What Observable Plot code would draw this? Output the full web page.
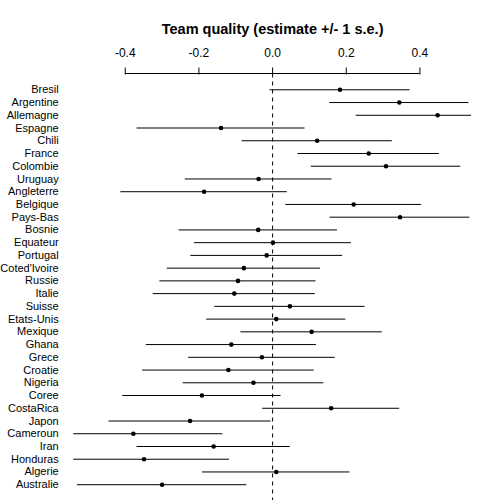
<!DOCTYPE html>
<html>
<head>
<meta charset="utf-8">
<script src="https://cdn.jsdelivr.net/npm/d3@7"></script>
<script src="https://cdn.jsdelivr.net/npm/@observablehq/plot@0.6"></script>
<style>
  html, body { margin: 0; padding: 0; background: #fff; }
  svg { font-family: "Liberation Sans", Arial, Helvetica, sans-serif; }
</style>
</head>
<body>
<div id="chart"></div>
<script>
const title = "Team quality (estimate +/- 1 s.e.)";
const teams = ["Bresil","Argentine","Allemagne","Espagne","Chili","France","Colombie","Uruguay","Angleterre","Belgique","Pays-Bas","Bosnie","Equateur","Portugal","Coted'Ivoire","Russie","Italie","Suisse","Etats-Unis","Mexique","Ghana","Grece","Croatie","Nigeria","Coree","CostaRica","Japon","Cameroun","Iran","Honduras","Algerie","Australie"];
const estimates = [0.183,0.344,0.448,-0.140,0.121,0.261,0.308,-0.038,-0.186,0.220,0.346,-0.039,0.001,-0.016,-0.078,-0.094,-0.104,0.047,0.010,0.106,-0.112,-0.029,-0.120,-0.052,-0.192,0.159,-0.224,-0.378,-0.160,-0.349,0.010,-0.300];
const stdErrors = [0.190,0.189,0.221,0.228,0.204,0.192,0.203,0.199,0.226,0.184,0.190,0.215,0.213,0.206,0.208,0.212,0.220,0.204,0.189,0.192,0.231,0.199,0.233,0.191,0.215,0.186,0.220,0.243,0.208,0.232,0.200,0.230];
const xTicks = [-0.4, -0.2, 0, 0.2, 0.4];

const rows = teams.map((t, i) => ({team: t, est: estimates[i], lo: estimates[i] - stdErrors[i], hi: estimates[i] + stdErrors[i]}));

// axis line spanning the first to last tick, drawn with the x scale
const axisLine = (index, scales, values, dimensions) => {
  const ns = "http://www.w3.org/2000/svg";
  const l = document.createElementNS(ns, "line");
  l.setAttribute("x1", scales.x(xTicks[0]));
  l.setAttribute("x2", scales.x(xTicks[xTicks.length - 1]));
  l.setAttribute("y1", dimensions.marginTop);
  l.setAttribute("y2", dimensions.marginTop);
  l.setAttribute("stroke", "black");
  return l;
};

const chart = Plot.plot({
  width: 500,
  height: 500,
  marginTop: 73.5,
  marginBottom: 0,
  marginLeft: 73.2,
  marginRight: 29,
  style: {fontFamily: "'Liberation Sans', Arial, Helvetica, sans-serif", background: "white"},
  x: {domain: [-0.54, 0.54]},
  y: {type: "point", domain: teams, padding: 1.24, round: false},
  marks: [
    Plot.text([title], {frameAnchor: "top", lineAnchor: "middle", dy: -44.5, fontWeight: "bold", fontSize: 14.5, fill: "black"}),
    Plot.axisX({anchor: "top", ticks: xTicks, tickFormat: d => d.toFixed(1), tickSize: 7, tickPadding: 10, fontSize: 12, color: "black", label: null}),
    axisLine,
    Plot.axisY({tickSize: 0, tickPadding: 15, fontSize: 11, color: "black", label: null}),
    Plot.ruleX([0], {stroke: "black", strokeDasharray: "4,4", strokeWidth: 1}),
    Plot.ruleY(rows, {y: "team", x1: "lo", x2: "hi", stroke: "black", strokeWidth: 1, clip: true}),
    Plot.dot(rows, {y: "team", x: "est", r: 2.3, fill: "black", stroke: null})
  ]
});
document.getElementById("chart").appendChild(chart);
</script>
</body>
</html>
